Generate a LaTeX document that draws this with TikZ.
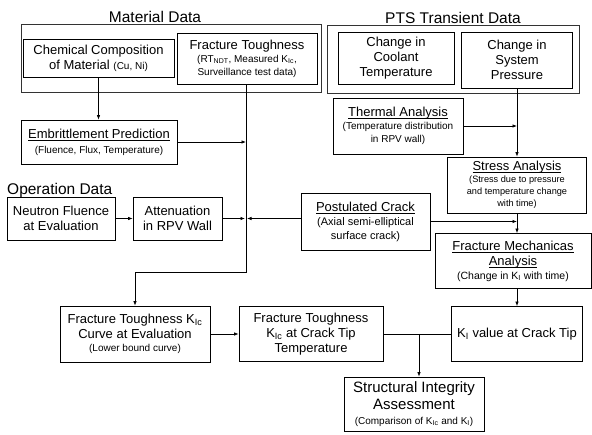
\documentclass[tikz,border=0pt]{standalone}
\usepackage{fontspec}
\setmainfont{Liberation Sans}
\usetikzlibrary{arrows.meta}
\newcommand\subt[1]{{\fontsize{10}{12}\selectfont #1}}
\newcommand\subs[1]{{\fontsize{9.2}{11}\selectfont #1}}
\newcommand\ulx[1]{\setbox0\hbox{#1}\rlap{\rule[-2.2pt]{\wd0}{0.75pt}}\box0}
\begin{document}
\begin{tikzpicture}[x=1pt,y=-1pt,
  box/.style={draw, line width=0.8pt, align=center, inner sep=1pt, font=\fontsize{13}{15}\selectfont},
  grp/.style={draw, line width=0.7pt, black!80, inner sep=0pt},
  ttl/.style={font=\fontsize{15.5}{18}\selectfont, anchor=base, inner sep=0pt},
  arr/.style={-{Latex[length=4.5pt,width=3.5pt]}, line width=0.7pt},
  ln/.style={line width=0.7pt}]
\useasboundingbox (0,0) rectangle (592,435);
% group boxes
\node[grp, minimum width=300pt, minimum height=68pt] (matgrp) at (171,58) {};
\node[ttl] (mattl) at (155,23) {Material Data};
\node[grp, minimum width=252pt, minimum height=68pt] (ptsgrp) at (453,59) {};
\node[ttl] (ptstl) at (453,24) {PTS Transient Data};
\node[ttl, anchor=base west] (optl) at (7,194.5) {Operation Data};
% boxes
\node[box, minimum width=151pt, minimum height=38pt] (chem) at (98.5,58) {Chemical Composition\\of Material \subt{(Cu, Ni)}};
\node[box, minimum width=140pt, minimum height=51pt] (ftough) at (247,58.5) {Fracture Toughness\\[-2pt]\subt{(RT\textsubscript{NDT}, Measured K\textsubscript{Ic},}\\[-2pt]\subt{Surveillance test data)}};
\node[box, minimum width=116pt, minimum height=52pt] (coolant) at (396,58) {Change in\\Coolant\\Temperature};
\node[box, minimum width=111pt, minimum height=56pt] (pressure) at (517,60) {Change in\\System\\Pressure};
\node[box, minimum width=156pt, minimum height=44pt] (embr) at (99,142) {\ulx{Embrittlement Prediction}\\\subt{(Fluence, Flux, Temperature)}};
\node[box, minimum width=130pt, minimum height=56pt] (thermal) at (398,126) {\ulx{Thermal Analysis}\\[-2pt]\subt{(Temperature distribution}\\[-2pt]\subt{in RPV wall)}};
\node[box, minimum width=139pt, minimum height=56pt] (stress) at (517,185) {\ulx{Stress Analysis}\\[-3pt]\subs{(Stress due to pressure}\\[-3pt]\subs{and temperature change}\\[-3pt]\subs{with time)}};
\node[box, minimum width=108pt, minimum height=43pt] (neutron) at (61,218.5) {Neutron Fluence\\at Evaluation};
\node[box, minimum width=89pt, minimum height=43pt] (atten) at (177.5,218.5) {Attenuation\\in RPV Wall};
\node[box, minimum width=129pt, minimum height=57pt] (crack) at (365.5,221.5) {\ulx{Postulated Crack}\\[-1pt]{\fontsize{11}{13}\selectfont (Axial semi-elliptical}\\[-1pt]{\fontsize{11}{13}\selectfont surface crack)}};
\node[box, minimum width=156pt, minimum height=55pt] (fmech) at (513,261) {\ulx{Fracture Mechanicas}\\\ulx{Analysis}\\[-1pt]{\fontsize{10.5}{12}\selectfont (Change in K\textsubscript{I} with time)}};
\node[box, minimum width=150pt, minimum height=56pt] (ftcurve) at (135,334) {Fracture Toughness K\textsubscript{Ic}\\Curve at Evaluation\\[-2pt]\subt{(Lower bound curve)}};
\node[box, minimum width=144pt, minimum height=55pt] (ftcrack) at (311,334) {Fracture Toughness\\K\textsubscript{Ic} at Crack Tip\\Temperature};
\node[box, minimum width=131pt, minimum height=55pt] (ki) at (517,334) {K\textsubscript{I} value at Crack Tip};
\node[box, minimum width=140pt, minimum height=54pt, font=\fontsize{15}{17}\selectfont] (struct) at (414,404) {Structural Integrity\\Assessment\\[-2pt]\subt{(Comparison of K\textsubscript{Ic} and K\textsubscript{I})}};
% connectors
\coordinate (tA) at (246,272);
\coordinate (j) at (419,334);
\draw[arr] (chem.south) -- (embr.north -| chem.south);
\draw[arr] (ftough.south -| tA) -- (tA) -| (ftcurve.north);
\draw[arr] (embr.east) -- (embr.east -| tA);
\draw[arr] (neutron) -- (atten);
\draw[arr, shorten >=1pt] (atten.east) -- (atten.east -| tA);
\draw[arr, shorten >=1pt] (crack.west |- atten.east) -- (atten.east -| tA);
\draw[arr] (pressure.south) -- (stress.north);
\draw[arr] (thermal.east) -- (thermal.east -| pressure.south);
\draw[arr] (crack.east) -- (crack.east -| pressure.south);
\draw[arr] (stress.south) -- (stress.south |- fmech.north);
\draw[arr] (stress.south |- fmech.south) -- (ki.north);
\draw[arr] (ftcurve) -- (ftcrack);
\draw[ln] (ftcrack) -- (ki);
\draw[arr] (j) -- (j |- struct.north);
\end{tikzpicture}
\end{document}
